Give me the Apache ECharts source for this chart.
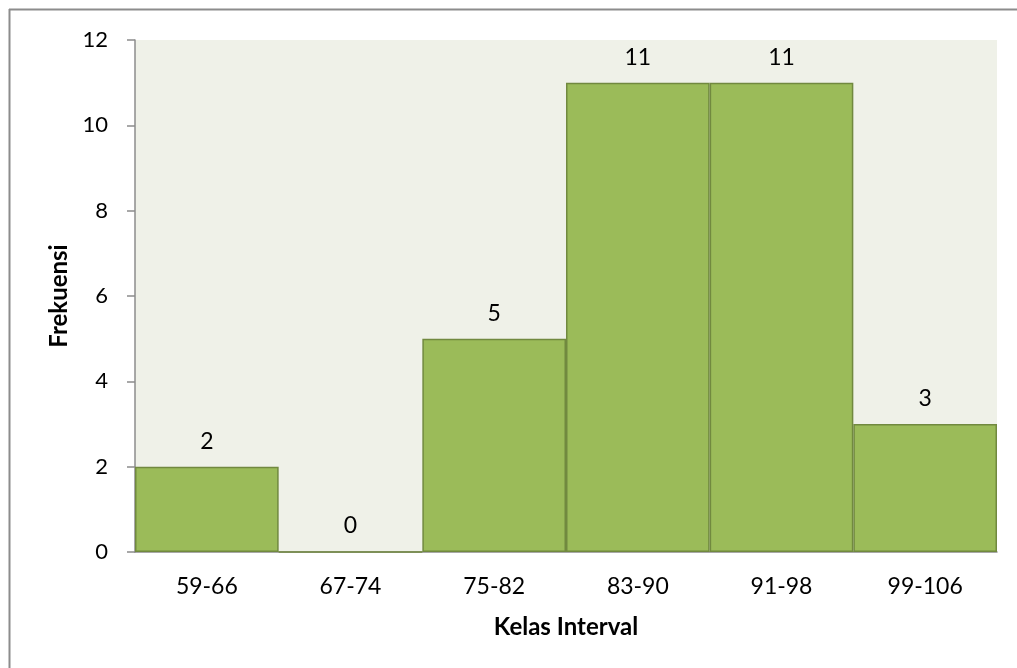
<!DOCTYPE html>
<html>
<head>
<meta charset="utf-8">
<script src="https://cdn.jsdelivr.net/npm/echarts@6/dist/echarts.min.js"></script>
<style>
  html, body { margin: 0; padding: 0; background: #fff; }
  #chart { width: 1017px; height: 668px; }
</style>
</head>
<body>
<div id="chart"></div>
<script>
const kelas = ['59-66', '67-74', '75-82', '83-90', '91-98', '99-106'];
const frekuensi = [2, 0, 5, 11, 11, 3];

const font = 'Lato, "Open Sans", sans-serif';
const myChart = echarts.init(document.getElementById('chart'));

const option = {
  animation: false,
  textStyle: { fontFamily: font },
  graphic: [
    { type: 'line', shape: { x1: 9, y1: 9.5, x2: 1017, y2: 9.5 }, style: { stroke: '#8c8c8c', lineWidth: 2 } },
    { type: 'line', shape: { x1: 9.5, y1: 9, x2: 9.5, y2: 668 }, style: { stroke: '#8c8c8c', lineWidth: 2 } }
  ],
  grid: {
    left: 135,
    top: 40,
    right: 20,
    bottom: 116,
    show: true,
    backgroundColor: '#eff1e8',
    borderWidth: 0
  },
  xAxis: {
    type: 'category',
    data: kelas,
    name: 'Kelas Interval',
    nameLocation: 'middle',
    nameGap: 63,
    nameTextStyle: { fontSize: 24, fontWeight: 'bold', color: '#000', fontFamily: font },
    axisLine: { lineStyle: { color: '#8c8c8c', width: 1.5 } },
    axisTick: { show: false },
    axisLabel: { color: '#000', fontSize: 23, margin: 23, fontFamily: font }
  },
  yAxis: {
    type: 'value',
    min: 0,
    max: 12,
    interval: 2,
    name: 'Frekuensi',
    nameLocation: 'middle',
    nameGap: 61,
    nameTextStyle: { fontSize: 24, fontWeight: 'bold', color: '#000', fontFamily: font },
    axisLine: { show: true, lineStyle: { color: '#8c8c8c', width: 1.5 } },
    axisTick: { show: true, length: 8, lineStyle: { color: '#8c8c8c', width: 1.5 } },
    splitLine: { show: false },
    axisLabel: { color: '#000', fontSize: 22, margin: 27, fontFamily: font }
  },
  series: [{
    type: 'bar',
    data: frekuensi,
    barCategoryGap: '0%',
    itemStyle: { color: '#9bbb59', borderColor: '#71893f', borderWidth: 1.5 },
    label: {
      show: true,
      position: 'top',
      distance: 14,
      color: '#000',
      fontSize: 23,
      fontFamily: font
    }
  }]
};
myChart.setOption(option);
</script>
</body>
</html>
